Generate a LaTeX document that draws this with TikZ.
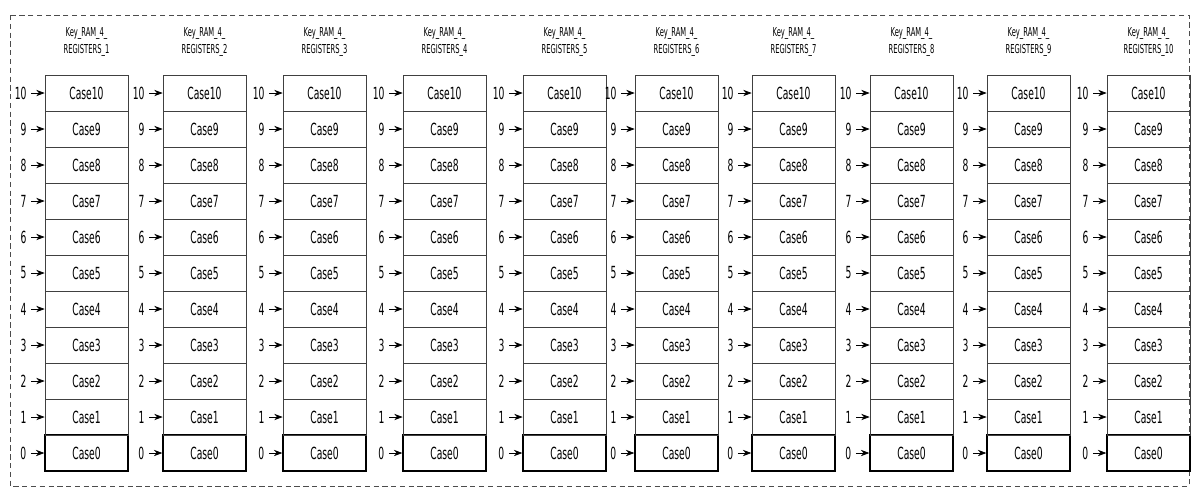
\documentclass[tikz,border=0pt]{standalone}
\usepackage{fontspec}
\setmainfont[FakeStretch=0.55]{DejaVu Sans}
\usetikzlibrary{arrows.meta,positioning}

\begin{document}
\begin{tikzpicture}[>=Stealth,x=0.02cm,y=-0.02cm,
  cell/.style={draw=black!75,minimum width=1.66cm,minimum height=0.72cm,
    inner sep=0pt,font=\fontsize{9.5}{9.5}\selectfont},
  cellzero/.style={cell,draw=black,thick},
  num/.style={inner sep=1pt,font=\fontsize{9.5}{9.5}\selectfont},
  regtitle/.style={align=center,font=\fontsize{7}{10}\selectfont}]
  \useasboundingbox (0,0) rectangle (1191,488);

  % outer frame
  \draw[densely dashed,black!70] (10,15) rectangle (1189,486);

  % ten register columns
  \foreach \k/\xl in {1/45,2/163,3/283,4/403,5/523,6/635,7/752,8/870,9/987,10/1107} {
    \node[regtitle] (t\k) at (\xl+41.5,42) {Key\_RAM\_4\_\\REGISTERS\_\k};
    \foreach \j in {0,...,10} {
      \ifnum\j=0
        \node[cellzero] (c\k-\j) at (\xl+41.5,{93+36*(10-\j)}) {Case\j};
      \else
        \node[cell] (c\k-\j) at (\xl+41.5,{93+36*(10-\j)}) {Case\j};
      \fi
      \node[num,left=0.32cm of c\k-\j] (n\k-\j) {\j};
      \draw[->] ([xshift=1.5pt]n\k-\j.east) -- (c\k-\j);
    }
  }
\end{tikzpicture}
\end{document}
